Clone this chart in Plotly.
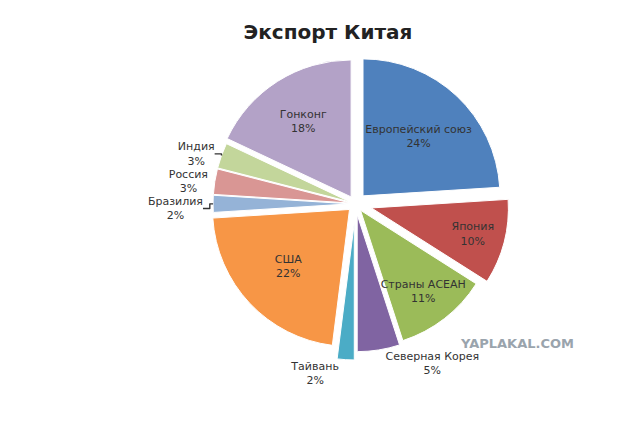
import plotly.graph_objects as go

labels = ["Европейский союз", "Япония", "Страны АСЕАН", "Северная Корея", "Тайвань",
          "США", "Бразилия", "Россия", "Индия", "Гонконг"]
values = [24, 10, 11, 5, 2, 22, 2, 3, 3, 18]
colors = ["#4F81BD", "#C0504D", "#9BBB59", "#8064A2", "#4BACC6",
          "#F79646", "#95B3D7", "#D99694", "#C3D69B", "#B3A2C7"]
positions = ["inside", "inside", "inside", "outside", "outside",
             "inside", "outside", "outside", "outside", "inside"]
pulls = [0.08, 0.12, 0.06, 0.08, 0.14, 0.06, 0.04, 0.04, 0.04, 0.06]

fig = go.Figure(go.Pie(
    labels=labels, values=values, sort=False, direction="clockwise", rotation=0,
    marker=dict(colors=colors, line=dict(color="white", width=1)),
    texttemplate="%{label}<br>%{value}%", textposition=positions,
    textfont=dict(family="DejaVu Sans", size=11, color="#333333"),
    insidetextorientation="horizontal", pull=pulls,
    domain=dict(x=[0.05, 0.95], y=[0.0, 0.9]), showlegend=False,
))
fig.update_layout(
    width=640, height=422, paper_bgcolor="white",
    margin=dict(l=5, r=5, t=5, b=5),
    uniformtext=dict(minsize=11, mode="show"),
    title=dict(text="<b>Экспорт Китая</b>", x=0.5, y=0.96, xanchor="center",
               font=dict(family="DejaVu Sans", size=20, color="#222")),
    annotations=[dict(text="<b>YAPLAKAL.COM</b>", x=0.99, y=0.02, xref="paper", yref="paper",
                      xanchor="right", yanchor="bottom", showarrow=False,
                      font=dict(family="DejaVu Sans", size=13, color="#9aa4ad"))],
)
fig.write_html("out.html")
